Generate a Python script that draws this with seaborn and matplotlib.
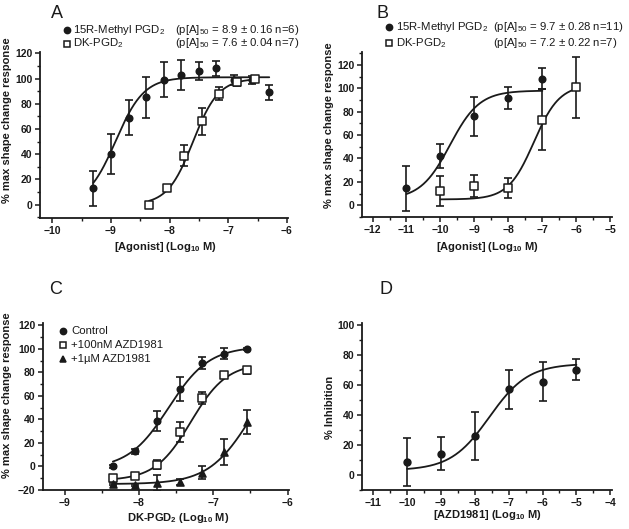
import numpy as np
import seaborn as sns
import matplotlib.pyplot as plt
from matplotlib.ticker import MultipleLocator

# Panel A
a_x_methyl = [-9.3, -9.0, -8.7, -8.4, -8.1, -7.8, -7.5, -7.2, -6.9, -6.6, -6.3]
a_y_methyl = [13, 40, 69, 85, 99, 103, 106, 108, 99, 99, 89]
a_e_methyl = [14, 16, 14, 16, 14, 12, 7, 6, 4, 3, 6]
a_x_dk = [-8.35, -8.05, -7.75, -7.45, -7.15, -6.85, -6.55]
a_y_dk = [0, 13, 39, 66, 88, 97, 100]
a_e_dk = [0, 2, 8, 11, 5, 3, 2]

# Panel B
b_x_methyl = [-11, -10, -9, -8, -7]
b_y_methyl = [14.5, 42, 76, 92, 108]
b_e_methyl = [19.5, 10, 16.5, 9.5, 9]
b_x_dk = [-10, -9, -8, -7, -6]
b_y_dk = [12, 16.5, 15, 73, 101]
b_e_dk = [13, 9, 8.5, 26, 26]

# Panel C
c_x = [-8.35, -8.05, -7.75, -7.45, -7.15, -6.85, -6.55]
c_y_ctrl = [0, 13, 39, 66, 88, 96, 100]
c_e_ctrl = [1, 2, 8.5, 10, 5.5, 5, 1]
c_y_100n = [-9.5, -8, 1.5, 29, 58, 78, 82]
c_e_100n = [2, 2, 4, 8.5, 5, 2, 3]
c_y_1u = [-15, -15.5, -14, -13.5, -5.5, 12, 38]
c_e_1u = [1, 1, 7, 2.5, 5.5, 11, 10]

# Panel D
d_x = [-10, -9, -8, -7, -6, -5]
d_y = [8.5, 14, 26, 57, 62, 70]
d_e = [16, 11, 16, 13, 13, 7]

# 4-parameter logistic fits: bottom, top, logEC50, hill
fit_a_methyl = [0, 101, -8.92, 1.8]
fit_a_dk = [0, 100, -7.6, 2.0]
fit_b_methyl = [5, 98, -9.72, 1.0]
fit_b_dk = [5, 103, -7.25, 1.15]
fit_c_ctrl = [-2, 102, -7.6, 1.6]
fit_c_100n = [-12, 88, -7.3, 1.8]
fit_c_1u = [-15, 100, -6.48, 1.5]
fit_d = [3, 74, -7.57, 0.76]

W, H = 629, 529
INK = "#1a1a1a"

sns.set_style("ticks")
plt.rcParams['font.family'] = ['Liberation Sans', 'DejaVu Sans']
plt.rcParams['mathtext.default'] = 'regular'
plt.rcParams['axes.edgecolor'] = INK
plt.rcParams['xtick.color'] = INK
plt.rcParams['ytick.color'] = INK

fig = plt.figure(figsize=(W / 100, H / 100), dpi=100)


def box(l, r, t, b):
    return [l / W, 1 - b / H, (r - l) / W, (b - t) / H]


def hill_curve(ax, xs, p):
    x = np.linspace(min(xs), max(xs), 200)
    bottom, top, ec, h = p
    y = bottom + (top - bottom) / (1 + 10 ** ((ec - x) * h))
    sns.lineplot(x=x, y=y, ax=ax, color=INK, lw=1.3, zorder=2)


def points(ax, x, y, e, marker, face, size=22):
    ax.errorbar(x, y, yerr=e, fmt='none', ecolor=INK, elinewidth=1.2,
                capsize=3.2, capthick=1.2, zorder=1)
    sns.scatterplot(x=x, y=y, ax=ax, marker=marker, s=size, color=face,
                    edgecolor=INK, linewidth=1.1, zorder=3)


def style(ax, xlim, ylim, xticks, yticks):
    ax.set_xlim(*xlim)
    ax.set_ylim(*ylim)
    ax.set_xticks(xticks)
    ax.set_yticks(yticks)
    ax.xaxis.set_minor_locator(MultipleLocator(0.5))
    ax.yaxis.set_minor_locator(MultipleLocator(10))
    sns.despine(ax=ax)
    for s in ['left', 'bottom']:
        ax.spines[s].set_linewidth(1.3)
    ax.tick_params(which='major', length=3.5, width=1.1, labelsize=7.5, pad=2)
    ax.tick_params(which='minor', length=2, width=1.0)
    for lab in ax.get_xticklabels() + ax.get_yticklabels():
        lab.set_fontweight('bold')
    ax.set_xlabel('')
    ax.set_ylabel('')


def ftext(x, y, s, **kw):
    kw.setdefault('color', INK)
    fig.text(x / W, 1 - y / H, s, **kw)


def fmark(x, y, marker, face, size=22):
    fig.add_artist(plt.Line2D([x / W], [1 - y / H], marker=marker,
                              markersize=np.sqrt(size), markerfacecolor=face,
                              markeredgecolor=INK, markeredgewidth=1.1,
                              linestyle='none', transform=fig.transFigure))


# ---- A ----
axA = fig.add_axes(box(40, 288, 52, 218))
hill_curve(axA, a_x_methyl, fit_a_methyl)
hill_curve(axA, a_x_dk, fit_a_dk)
points(axA, a_x_methyl, a_y_methyl, a_e_methyl, 'o', INK, 22)
points(axA, a_x_dk, a_y_dk, a_e_dk, 's', 'white', 26)
style(axA, (-10.21, -5.98), (-10.5, 121), range(-10, -5), range(0, 121, 20))

# ---- B ----
axB = fig.add_axes(box(362, 612, 52, 217))
hill_curve(axB, b_x_methyl, fit_b_methyl)
hill_curve(axB, b_x_dk, fit_b_dk)
points(axB, b_x_methyl, b_y_methyl, b_e_methyl, 'o', INK, 22)
points(axB, b_x_dk, b_y_dk, b_e_dk, 's', 'white', 26)
style(axB, (-12.31, -4.95), (-10, 131), range(-12, -4), range(0, 121, 20))

# ---- C ----
axC = fig.add_axes(box(43, 289, 323, 490))
hill_curve(axC, c_x, fit_c_ctrl)
hill_curve(axC, c_x, fit_c_100n)
hill_curve(axC, c_x, fit_c_1u)
points(axC, c_x, c_y_ctrl, c_e_ctrl, 'o', INK, 22)
points(axC, c_x, c_y_100n, c_e_100n, 's', 'white', 26)
points(axC, c_x, c_y_1u, c_e_1u, '^', INK, 26)
style(axC, (-9.29, -5.98), (-20, 122), range(-9, -5), range(-20, 121, 20))

# ---- D ----
axD = fig.add_axes(box(362, 612, 323, 490))
hill_curve(axD, d_x, fit_d)
points(axD, d_x, d_y, d_e, 'o', INK, 24)
style(axD, (-11.33, -3.95), (-10, 101), range(-11, -3), range(0, 101, 20))

# panel letters
for letter, x, y in [('A', 51, 13), ('B', 376, 13), ('C', 49, 290), ('D', 379, 290)]:
    ftext(x, y, letter, fontsize=13, va='center', ha='left')

# axis labels
lab = dict(fontsize=8, fontweight='bold', ha='center', va='center')
ylab = "% max shape change response"
ftext(7, 120, ylab, rotation=90, **lab)
ftext(329, 125, ylab, rotation=90, **lab)
ftext(7, 395, ylab, rotation=90, **lab)
ftext(330, 407, "% Inhibition", rotation=90, **lab)
ftext(165, 247, "[Agonist] (Log$_{10}$ M)", **lab)
ftext(487, 247, "[Agonist] (Log$_{10}$ M)", **lab)
ftext(178, 518, "DK-PGD$_2$ (Log$_{10}$ M)", **lab)
ftext(487, 515, "[AZD1981] (Log$_{10}$ M)", **lab)

# legends
leg = dict(fontsize=8.2, va='center', ha='left')
fmark(67, 30, 'o', INK, 20)
ftext(73, 30, "15R-Methyl PGD$_2$", **leg)
ftext(175, 30, "(p[A]$_{50}$ = 8.9 ± 0.16 n=6)", **leg)
fmark(67, 43.5, 's', 'white', 24)
ftext(73, 43.5, "DK-PGD$_2$", **leg)
ftext(175, 43.5, "(p[A]$_{50}$ = 7.6 ± 0.04 n=7)", **leg)

fmark(389, 27, 'o', INK, 20)
ftext(396, 27, "15R-Methyl PGD$_2$", **leg)
ftext(493, 27, "(p[A]$_{50}$ = 9.7 ± 0.28 n=11)", **leg)
fmark(389, 43, 's', 'white', 24)
ftext(396, 43, "DK-PGD$_2$", **leg)
ftext(493, 43, "(p[A]$_{50}$ = 7.2 ± 0.22 n=7)", **leg)

fmark(63, 331, 'o', INK, 20)
ftext(71, 331, "Control", **leg)
fmark(63, 345, 's', 'white', 24)
ftext(71, 345, "+100nM AZD1981", **leg)
fmark(63, 359, '^', INK, 24)
ftext(71, 359, "+1µM AZD1981", **leg)

fig.savefig("out.png", dpi=100)
